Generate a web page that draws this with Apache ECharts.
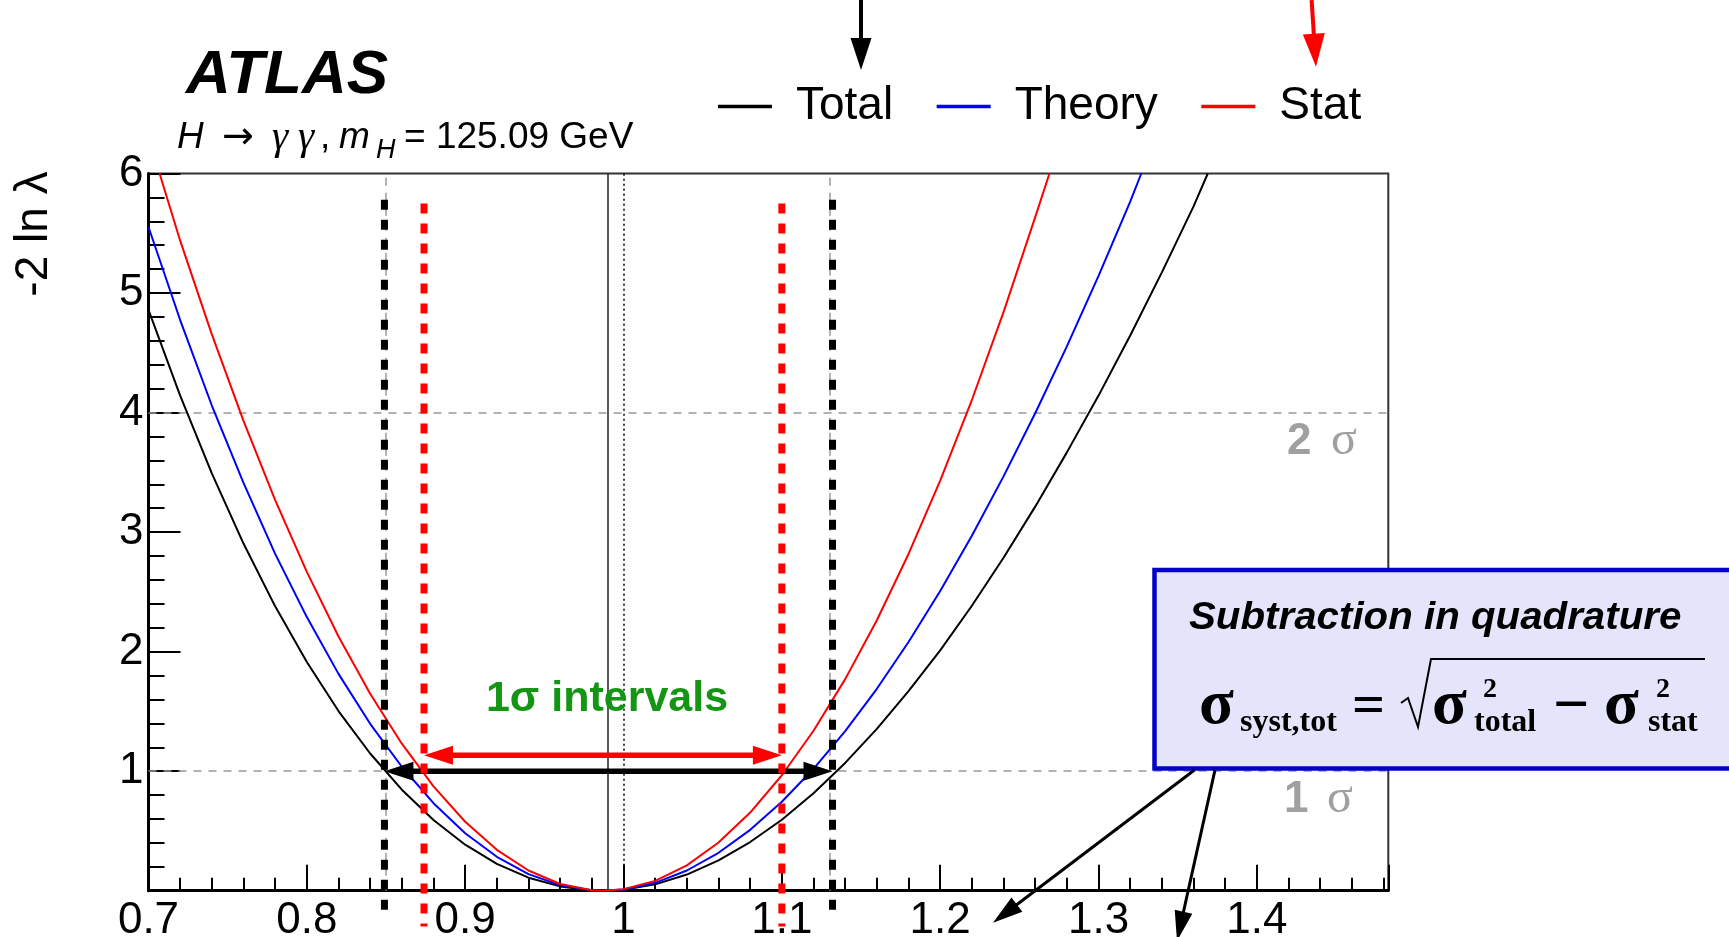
<!DOCTYPE html>
<html>
<head>
<meta charset="utf-8">
<script src="https://cdn.jsdelivr.net/npm/echarts@6/dist/echarts.min.js"></script>
<style>
  html, body { margin: 0; padding: 0; background: #ffffff; }
  #chart { width: 1729px; height: 937px; }
</style>
</head>
<body>
<div id="chart"></div>
<script>
// ---- data -------------------------------------------------------------
const xTickLabels = [0.7, 0.8, 0.9, 1.0, 1.1, 1.2, 1.3, 1.4];
const yTickLabels = [1, 2, 3, 4, 5, 6];
const seriesNames = ['Total', 'Theory', 'Stat'];

// -2 ln(lambda) profile curves, [mu, value]
const totalCurve = [
  [0.70, 4.859], [0.72, 4.142], [0.74, 3.491], [0.76, 2.904], [0.78, 2.379],
  [0.80, 1.913], [0.82, 1.503], [0.84, 1.148], [0.86, 0.845], [0.88, 0.591],
  [0.90, 0.385], [0.92, 0.225], [0.94, 0.109], [0.96, 0.036], [0.98, 0.002],
  [0.987, 0.0], [1.00, 0.008], [1.02, 0.053], [1.04, 0.135], [1.06, 0.253],
  [1.08, 0.407], [1.10, 0.594], [1.12, 0.815], [1.14, 1.069], [1.16, 1.354],
  [1.18, 1.669], [1.20, 2.011], [1.22, 2.384], [1.24, 2.785], [1.26, 3.213],
  [1.28, 3.667], [1.30, 4.142], [1.32, 4.645], [1.34, 5.173], [1.36, 5.725],
  [1.369, 6.0]
];
const theoryCurve = [
  [0.70, 5.552], [0.72, 4.774], [0.74, 4.059], [0.76, 3.412], [0.78, 2.818],
  [0.80, 2.289], [0.82, 1.814], [0.84, 1.396], [0.86, 1.037], [0.88, 0.732],
  [0.90, 0.481], [0.92, 0.284], [0.94, 0.139], [0.96, 0.046], [0.98, 0.003],
  [0.987, 0.0], [1.00, 0.010], [1.02, 0.066], [1.04, 0.169], [1.06, 0.317],
  [1.08, 0.509], [1.10, 0.744], [1.12, 1.020], [1.14, 1.335], [1.16, 1.689],
  [1.18, 2.081], [1.20, 2.508], [1.22, 2.970], [1.24, 3.466], [1.26, 3.994],
  [1.28, 4.554], [1.30, 5.144], [1.32, 5.764], [1.327, 6.0]
];
const statCurve = [
  [0.707, 6.0], [0.72, 5.438], [0.74, 4.654], [0.76, 3.930], [0.78, 3.268],
  [0.80, 2.667], [0.82, 2.127], [0.84, 1.648], [0.86, 1.230], [0.88, 0.873],
  [0.90, 0.577], [0.92, 0.342], [0.94, 0.169], [0.96, 0.056], [0.98, 0.004],
  [0.987, 0.0], [1.00, 0.013], [1.02, 0.082], [1.04, 0.212], [1.06, 0.403],
  [1.08, 0.654], [1.10, 0.966], [1.12, 1.338], [1.14, 1.770], [1.16, 2.263],
  [1.18, 2.817], [1.20, 3.431], [1.22, 4.105], [1.24, 4.840], [1.26, 5.635],
  [1.269, 6.0]
];

const bestFit = 0.986;          // best-fit signal strength
const smExpectation = 1.0;      // Standard Model value
const totalInterval = [0.849, 1.132];
const statInterval = [0.874, 1.100];
const sigmaLevels = [1, 4];
const sigmaLabels = ['1', '2'];

// ---- styling helpers -----------------------------------------------------
const SANS = '"Liberation Sans", Arial, Helvetica, sans-serif';
const SERIF = '"Liberation Serif", "Times New Roman", serif';
const X_MIN = 0.7, X_MAX = 1.483, Y_MIN = 0, Y_MAX = 6;

function txt(str, x, y, font, fill, extra) {
  return Object.assign({
    type: 'text', x: x, y: y, z: 100, silent: true,
    style: { text: str, font: font, fill: fill || '#000', align: 'left', verticalAlign: 'middle' }
  }, extra || {});
}

function arrowShapes(x1, y1, x2, y2, len, half, color, width) {
  const dx = x2 - x1, dy = y2 - y1, d = Math.hypot(dx, dy);
  const ux = dx / d, uy = dy / d;
  const bx = x2 - ux * len, by = y2 - uy * len;
  return [
    { type: 'line', z: 100, silent: true,
      shape: { x1: x1, y1: y1, x2: bx + ux * 2, y2: by + uy * 2 },
      style: { stroke: color, lineWidth: width } },
    { type: 'polygon', z: 100, silent: true,
      shape: { points: [[x2, y2], [bx - uy * half, by + ux * half], [bx + uy * half, by - ux * half]] },
      style: { fill: color } }
  ];
}

// double-headed interval arrow drawn in data coordinates
function intervalArrow(color, lift, shaft) {
  return function (params, api) {
    const a = api.coord([api.value(0), api.value(2)]);
    const b = api.coord([api.value(1), api.value(2)]);
    const y = a[1] - lift;
    const L = 29, H = 9.5;
    return {
      type: 'group',
      children: [
        { type: 'line', shape: { x1: a[0] + L - 2, y1: y, x2: b[0] - L + 2, y2: y },
          style: { stroke: color, lineWidth: shaft } },
        { type: 'polygon', shape: { points: [[a[0], y], [a[0] + L, y - H], [a[0] + L, y + H]] },
          style: { fill: color } },
        { type: 'polygon', shape: { points: [[b[0], y], [b[0] - L, y - H], [b[0] - L, y + H]] },
          style: { fill: color } }
      ]
    };
  };
}

// thick dashed interval edges, running a little past the frame bottom
function intervalEdge(color, top, bottom) {
  return function (params, api) {
    const p = api.coord([api.value(0), top]);
    const q = api.coord([api.value(0), bottom]);
    return {
      type: 'line',
      shape: { x1: p[0], y1: p[1], x2: q[0], y2: q[1] },
      style: { stroke: color, lineWidth: 7, lineDash: [10, 10] }
    };
  };
}

const curveSets = [totalCurve, theoryCurve, statCurve];
const curveColors = ['#000000', '#0000ff', '#ff0000'];

const curveSeries = seriesNames.map(function (name, i) {
  return {
    name: name, type: 'line', data: curveSets[i], z: 2,
    showSymbol: false, symbol: 'none', silent: true,
    itemStyle: { color: curveColors[i] },
    lineStyle: { color: curveColors[i], width: 2 }
  };
});

// ---- annotation graphics ---------------------------------------------
const graphics = [
  txt('ATLAS', 186, 75.5, 'italic bold 62px ' + SANS),
  txt('H', 177, 138, 'italic 37px ' + SANS),
  txt('\u2192', 222, 138, '38px "DejaVu Sans"'),
  txt('\u03b3', 272, 138, 'italic 41px ' + SERIF),
  txt('\u03b3', 298, 138, 'italic 41px ' + SERIF),
  txt(',', 320, 138, '37px ' + SANS),
  txt('m', 339, 138, 'italic 37px ' + SANS),
  txt('H', 376, 150.5, 'italic 27px ' + SANS),
  txt('= 125.09 GeV', 404, 138, '37px ' + SANS),
  { type: 'text', x: 34, y: 234, z: 100, silent: true, rotation: Math.PI / 2,
    style: { text: '-2 ln \u03bb', font: '46px ' + SANS, fill: '#000', align: 'center', verticalAlign: 'middle' } },
  { type: 'text', x: 607, y: 699, z: 100, silent: true,
    style: { text: '1\u03c3 intervals', font: 'bold 43px ' + SANS, fill: '#149614', align: 'center', verticalAlign: 'middle' } },
  // sigma level tags
  txt(sigmaLabels[1], 1287, 442, 'bold 44px ' + SANS, '#a0a0a0'),
  txt('\u03c3', 1331, 441, '48px ' + SERIF, '#a0a0a0'),
  txt(sigmaLabels[0], 1284, 800, 'bold 44px ' + SANS, '#a0a0a0'),
  txt('\u03c3', 1327, 799, '48px ' + SERIF, '#a0a0a0'),
  // explanation box
  { type: 'rect', z: 99, silent: true,
    shape: { x: 1154.5, y: 570, width: 620, height: 198.5 },
    style: { fill: '#e4e4fa', stroke: '#0000c8', lineWidth: 4.5 } },
  txt('Subtraction in quadrature', 1189, 619, 'italic bold 38px ' + SANS, '#000', { scaleX: 1.06 }),
  txt('\u03c3', 1199, 706, 'bold 64px ' + SERIF),
  txt('syst,tot', 1240, 723, 'bold 32px ' + SERIF),
  txt('=', 1352, 708, 'bold 58px ' + SERIF),
  { type: 'polyline', z: 100, silent: true,
    shape: { points: [[1401, 703], [1408, 698], [1418, 727], [1431, 659], [1705, 659]] },
    style: { stroke: '#000', lineWidth: 2, fill: null } },
  txt('\u03c3', 1432, 706, 'bold 64px ' + SERIF),
  txt('2', 1483, 689.5, 'bold 28px ' + SERIF),
  txt('total', 1474, 723, 'bold 32px ' + SERIF),
  txt('\u2212', 1553, 708, 'bold 64px ' + SERIF),
  txt('\u03c3', 1604, 706, 'bold 64px ' + SERIF),
  txt('2', 1656, 689.5, 'bold 28px ' + SERIF),
  txt('stat', 1648, 723, 'bold 32px ' + SERIF)
].concat(
  arrowShapes(861, 0, 861, 70, 32, 10.5, '#000000', 4),
  arrowShapes(1311.6, 0, 1316, 66.7, 33, 11, '#ff0000', 4),
  arrowShapes(1194.5, 770, 993, 922.7, 30, 9, '#000000', 3),
  arrowShapes(1215, 770, 1177, 941, 30, 9, '#000000', 3)
);

// ---- chart --------------------------------------------------------------
const chart = echarts.init(document.getElementById('chart'), null, { renderer: 'canvas' });

chart.setOption({
  animation: false,
  backgroundColor: '#ffffff',
  grid: {
    left: 148.5, right: 340.7, top: 173.5, bottom: 46.3,
    containLabel: false, outerBoundsMode: 'none',
    show: true, borderColor: '#333333', borderWidth: 2, backgroundColor: 'transparent'
  },
  legend: {
    data: seriesNames, selectedMode: false,
    left: 718, top: 83.5, orient: 'horizontal', padding: 0,
    icon: 'rect', itemWidth: 54, itemHeight: 3.5, itemGap: 43.5,
    textStyle: { fontFamily: SANS, fontSize: 46, color: '#000', padding: [0, 0, 0, 19] }
  },
  xAxis: [
    {
      type: 'value', min: X_MIN, max: X_MAX, interval: 0.1, position: 'bottom',
      axisLine: { show: true, onZero: false, lineStyle: { color: '#000', width: 3 } },
      axisTick: { show: true, inside: true, length: 26, lineStyle: { color: '#000', width: 2 } },
      axisLabel: {
        show: true, margin: 8, fontFamily: SANS, fontSize: 44, color: '#000',
        customValues: xTickLabels,
        formatter: function (v) { return String(+v.toFixed(1)); }
      },
      splitLine: { show: false }
    },
    {
      // minor ticks every 0.02
      type: 'value', min: X_MIN, max: X_MAX, interval: 0.02, position: 'bottom',
      axisLine: { show: false, onZero: false },
      axisTick: { show: true, inside: true, length: 13, lineStyle: { color: '#000', width: 2 } },
      axisLabel: { show: false },
      splitLine: { show: false }
    }
  ],
  yAxis: {
    type: 'value', min: Y_MIN, max: Y_MAX, interval: 1,
    axisLine: { show: true, onZero: false, lineStyle: { color: '#000', width: 3 } },
    axisTick: { show: true, inside: true, length: 32, lineStyle: { color: '#000', width: 2 } },
    minorTick: { show: true, splitNumber: 5, length: 16, lineStyle: { color: '#000', width: 2 } },
    axisLabel: {
      show: true, margin: 5, fontFamily: SANS, fontSize: 44, color: '#000',
      customValues: yTickLabels, padding: [4, 0, 0, 0]
    },
    splitLine: { show: false }
  },
  series: [
    {
      name: 'guides', type: 'line', data: [], z: 1, silent: true,
      markLine: {
        z: 1, silent: true, symbol: ['none', 'none'], label: { show: false }, animation: false,
        lineStyle: { color: '#999999', width: 1.5, type: [8, 7] },
        data: sigmaLevels.map(function (v) { return { yAxis: v }; })
          .concat(totalInterval.map(function (v) { return { xAxis: v }; }))
          .concat([
            { xAxis: bestFit, lineStyle: { color: '#222222', width: 1.5, type: 'solid' } },
            { xAxis: smExpectation, lineStyle: { color: '#000000', width: 1.5, type: [2, 3] } }
          ])
      }
    }
  ].concat(curveSeries, [
    {
      name: 'totalArrow', type: 'custom', coordinateSystem: 'cartesian2d', z: 3, silent: true,
      encode: { x: [0, 1], y: 2 },
      data: [[totalInterval[0], totalInterval[1], sigmaLevels[0]]],
      renderItem: intervalArrow('#000000', 0, 5.5)
    },
    {
      name: 'statArrow', type: 'custom', coordinateSystem: 'cartesian2d', z: 3, silent: true,
      encode: { x: [0, 1], y: 2 },
      data: [[statInterval[0], statInterval[1], sigmaLevels[0]]],
      renderItem: intervalArrow('#ff0000', 16, 5.5)
    },
    {
      name: 'totalEdges', type: 'custom', coordinateSystem: 'cartesian2d', z: 4, silent: true, clip: false,
      encode: { x: 0, y: 1 },
      data: totalInterval.map(function (v) { return [v, 0]; }),
      renderItem: intervalEdge('#000000', 5.78, -0.24)
    },
    {
      name: 'statEdges', type: 'custom', coordinateSystem: 'cartesian2d', z: 5, silent: true, clip: false,
      encode: { x: 0, y: 1 },
      data: statInterval.map(function (v) { return [v, 0]; }),
      renderItem: intervalEdge('#ff0000', 5.75, -0.30)
    }
  ]),
  graphic: { elements: graphics }
});
</script>
</body>
</html>
